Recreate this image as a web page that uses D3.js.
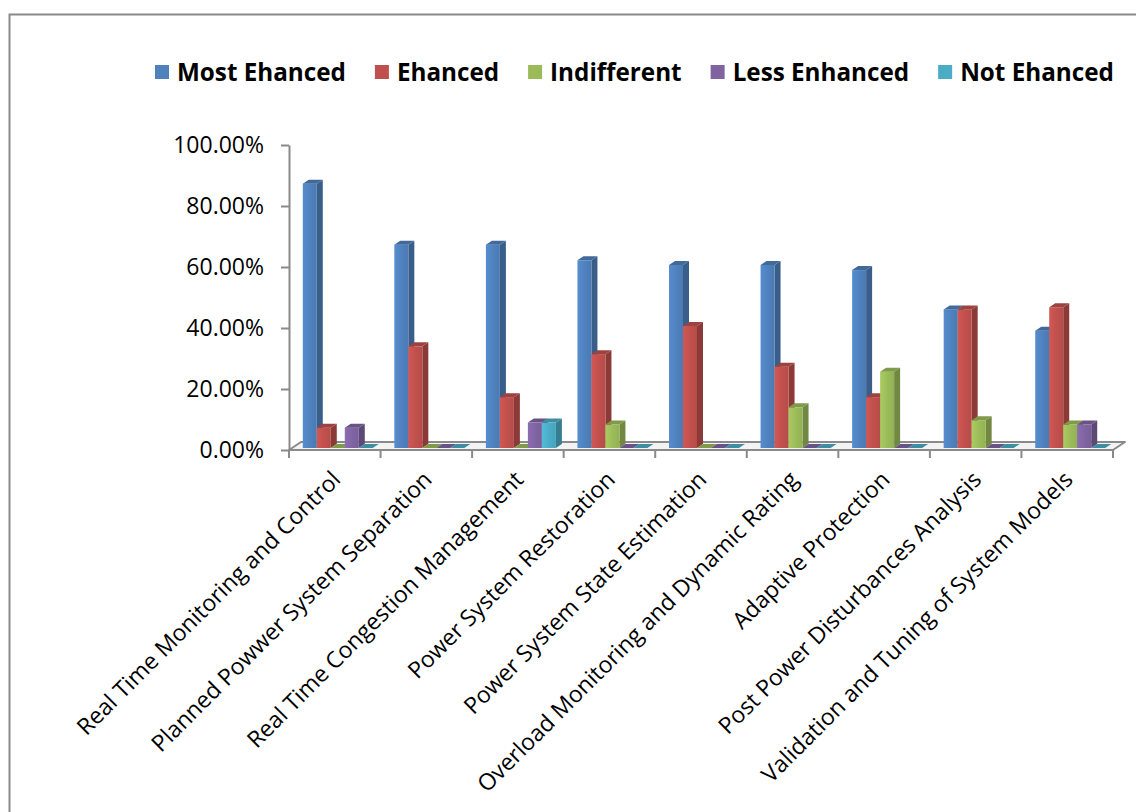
<!DOCTYPE html>
<html>
<head>
<meta charset="utf-8">
<script src="https://cdn.jsdelivr.net/npm/d3@7/dist/d3.min.js"></script>
<style>
  html, body { margin: 0; padding: 0; background: #fff; }
  svg { display: block; }
</style>
</head>
<body>
<script>
// Survey results: share of respondents per enhancement level, by application
const categories = [
  "Real Time Monitoring and Control",
  "Planned Powwer System Separation",
  "Real Time Congestion Management",
  "Power System Restoration",
  "Power System State Estimation",
  "Overload Monitoring and Dynamic Rating",
  "Adaptive Protection",
  "Post Power Disturbances Analysis",
  "Validation and Tuning of System Models"
];
const seriesNames = ["Most Ehanced", "Ehanced", "Indifferent", "Less Enhanced", "Not Ehanced"];
const mostEnhanced = [0.8667, 0.6667, 0.6667, 0.6154, 0.6000, 0.6000, 0.5833, 0.4545, 0.3846];
const enhanced     = [0.0667, 0.3333, 0.1667, 0.3077, 0.4000, 0.2667, 0.1667, 0.4545, 0.4615];
const indifferent  = [0.0000, 0.0000, 0.0000, 0.0769, 0.0000, 0.1333, 0.2500, 0.0909, 0.0769];
const lessEnhanced = [0.0667, 0.0000, 0.0833, 0.0000, 0.0000, 0.0000, 0.0000, 0.0000, 0.0769];
const notEnhanced  = [0.0000, 0.0000, 0.0833, 0.0000, 0.0000, 0.0000, 0.0000, 0.0000, 0.0000];
const yTicks = [0, 0.2, 0.4, 0.6, 0.8, 1.0];
const seriesColors = ["#4F81BD", "#C0504D", "#9BBB59", "#8064A2", "#4BACC6"];

const seriesValues = [mostEnhanced, enhanced, indifferent, lessEnhanced, notEnhanced];

const W = 1136, H = 812;
const font = "'Open Sans', 'Noto Sans', sans-serif";
const axisGrey = "#8a8a8a";

const svg = d3.select("body").append("svg")
  .attr("width", W).attr("height", H)
  .style("background", "#fff");

// chart area frame
svg.append("rect")
  .attr("x", 9.5).attr("y", 14.5)
  .attr("width", W + 20).attr("height", H + 20)
  .attr("fill", "#fff")
  .attr("stroke", axisGrey).attr("stroke-width", 2);

// plot geometry
const plot = { left: 289, right: 1113, top: 145, bottom: 450 };
const floorDepth = { dx: 12, dy: -8 };     // projected depth of the floor
const barFront = { dx: 3, dy: -2 };        // front face of the columns within the floor depth
const barDepth = { dx: 6, dy: -4 };        // projected depth of each column

const x0 = d3.scaleBand().domain(categories).range([plot.left, plot.right]).padding(0);
const x1 = d3.scaleBand().domain(seriesNames).range([0, x0.step()]).paddingInner(0).paddingOuter(0.77);
const y = d3.scaleLinear().domain([0, 1]).range([plot.bottom, plot.top]);

// gradients for column front faces
const defs = svg.append("defs");
seriesColors.forEach((c, i) => {
  const g = defs.append("linearGradient").attr("id", "front" + i)
    .attr("x1", 0).attr("x2", 1).attr("y1", 0).attr("y2", 0);
  g.append("stop").attr("offset", "0%").attr("stop-color", d3.color(c).brighter(0.25));
  g.append("stop").attr("offset", "55%").attr("stop-color", c);
  g.append("stop").attr("offset", "100%").attr("stop-color", d3.color(c).darker(0.15));
});

// floor
const fl = plot.left, fr = plot.right, fb = plot.bottom;
svg.append("path")
  .attr("d", `M${fl},${fb} L${fr},${fb} L${fr + floorDepth.dx},${fb + floorDepth.dy} L${fl + floorDepth.dx},${fb + floorDepth.dy} Z`)
  .attr("fill", "#f3f3f3")
  .attr("stroke", axisGrey).attr("stroke-width", 2)
  .attr("stroke-linejoin", "round");

// value axis
const yAxis = d3.axisLeft(y)
  .tickValues(yTicks)
  .tickFormat(d3.format(".2%"))
  .tickSize(8)
  .tickSizeOuter(0)
  .tickPadding(17);
const gy = svg.append("g").attr("transform", `translate(${plot.left},0)`).call(yAxis);
gy.select(".domain").attr("stroke", axisGrey).attr("stroke-width", 2);
gy.selectAll(".tick line").attr("stroke", axisGrey).attr("stroke-width", 2);
gy.selectAll(".tick text")
  .attr("fill", "#000")
  .style("font-family", font)
  .style("font-size", "23px");

// category tick marks at band boundaries
const boundaries = categories.map(c => x0(c)).concat([plot.right]);
svg.append("g").selectAll("line").data(boundaries).join("line")
  .attr("x1", d => d).attr("x2", d => d)
  .attr("y1", plot.bottom).attr("y2", plot.bottom + 8)
  .attr("stroke", axisGrey).attr("stroke-width", 2);

// 3D columns, drawn left to right so neighbours overlap correctly
const bars = [];
categories.forEach((c, ci) => {
  seriesNames.forEach((s, si) => {
    bars.push({ cat: c, series: s, si, value: seriesValues[si][ci] });
  });
});

const gBars = svg.append("g");
bars.forEach(b => {
  const w = x1.bandwidth();
  const xl = x0(b.cat) + x1(b.series) + barFront.dx;
  const yb = y(0) + barFront.dy;
  const yt = y(b.value) + barFront.dy;
  const col = d3.color(seriesColors[b.si]);
  const g = gBars.append("g");
  // side face
  g.append("path")
    .attr("d", `M${xl + w},${yb} L${xl + w + barDepth.dx},${yb + barDepth.dy} L${xl + w + barDepth.dx},${yt + barDepth.dy} L${xl + w},${yt} Z`)
    .attr("fill", col.darker(0.9));
  // front face
  if (yb - yt > 0) {
    g.append("rect")
      .attr("x", xl).attr("y", yt)
      .attr("width", w).attr("height", yb - yt)
      .attr("fill", `url(#front${b.si})`);
  }
  // top face
  g.append("path")
    .attr("d", `M${xl},${yt} L${xl + w},${yt} L${xl + w + barDepth.dx},${yt + barDepth.dy} L${xl + barDepth.dx},${yt + barDepth.dy} Z`)
    .attr("fill", col.darker(0.55));
});

// category labels, rotated
svg.append("g").selectAll("text").data(categories).join("text")
  .attr("transform", d => `translate(${x0(d) + x0.step() / 2 + 7},${plot.bottom + 31}) rotate(-45)`)
  .attr("text-anchor", "end")
  .style("font-family", font)
  .style("font-size", "23px")
  .attr("fill", "#000")
  .text(d => d);

// legend across the top
const legend = svg.append("g");
const legendLeft = 155, legendRight = 1114, legendY = 72;
const swatch = 14, swatchGap = 8, itemGap = 29;
let legendFont = 24;
const items = legend.selectAll("g").data(seriesNames).join("g");
items.append("rect")
  .attr("width", swatch).attr("height", swatch)
  .attr("fill", (d, i) => seriesColors[i]);
const labels = items.append("text")
  .attr("x", swatch + swatchGap)
  .attr("y", swatch / 2)
  .attr("dy", "0.36em")
  .style("font-family", font)
  .style("font-weight", "bold")
  .attr("fill", "#000")
  .text(d => d);
labels.style("font-size", legendFont + "px");
let textTotal = 0;
labels.each(function () { textTotal += this.getComputedTextLength(); });
const fixed = seriesNames.length * (swatch + swatchGap) + (seriesNames.length - 1) * itemGap;
legendFont = legendFont * (legendRight - legendLeft - fixed) / textTotal;
labels.style("font-size", legendFont.toFixed(2) + "px");
let cursor = legendLeft;
items.each(function () {
  const t = d3.select(this).select("text").node();
  d3.select(this).attr("transform", `translate(${cursor},${legendY - swatch / 2})`);
  cursor += swatch + swatchGap + t.getComputedTextLength() + itemGap;
});
</script>
</body>
</html>
